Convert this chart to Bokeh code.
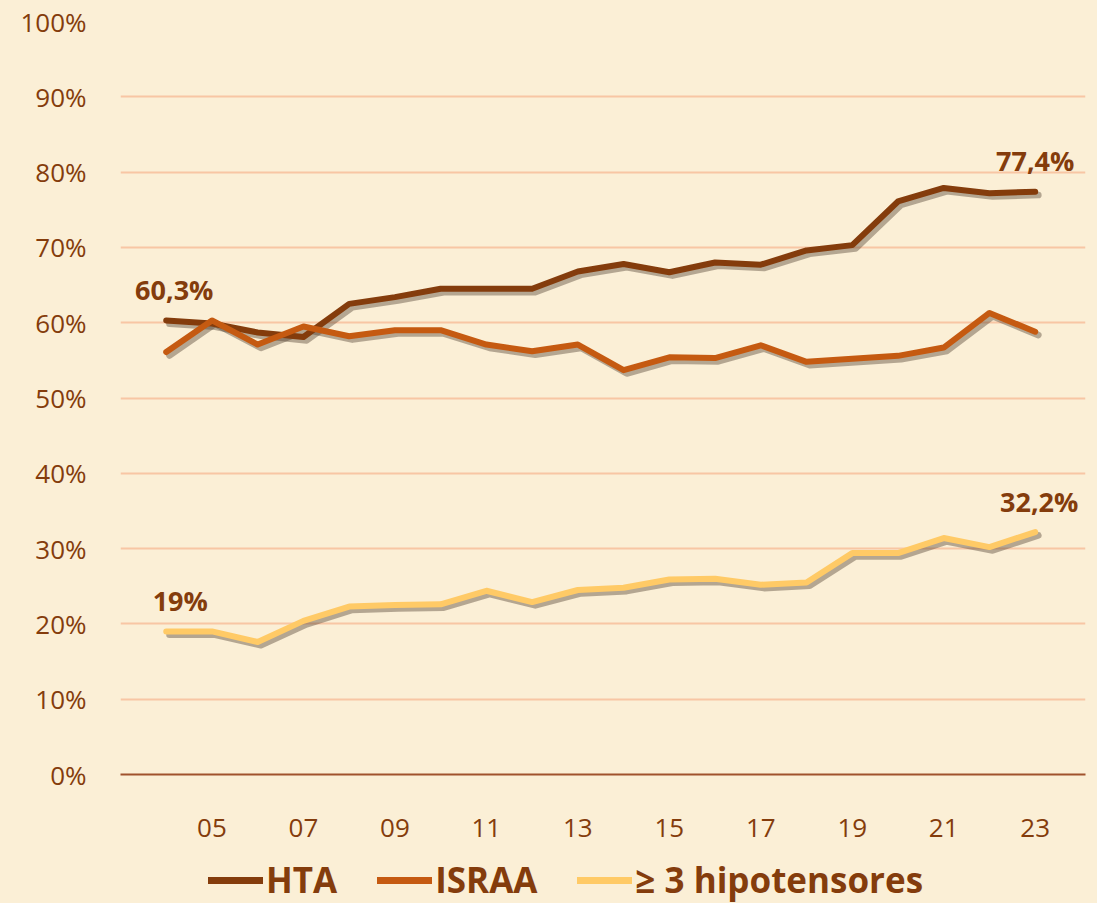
from bokeh.plotting import figure
from bokeh.layouts import column
from bokeh.models import FixedTicker, Legend, LegendItem, ColumnDataSource, Range1d
from bokeh.core.properties import value
from bokeh.embed import file_html
from bokeh.resources import INLINE

years = [4, 5, 6, 7, 8, 9, 10, 11, 12, 13, 14, 15, 16, 17, 18, 19, 20, 21, 22, 23]
tick_years = [5, 7, 9, 11, 13, 15, 17, 19, 21, 23]
tick_labels = ["05", "07", "09", "11", "13", "15", "17", "19", "21", "23"]
y_ticks = [0, 10, 20, 30, 40, 50, 60, 70, 80, 90, 100]

hta = [60.3, 59.9, 58.7, 58.1, 62.5, 63.4, 64.5, 64.5, 64.5, 66.8,
       67.8, 66.7, 68.0, 67.7, 69.6, 70.3, 76.1, 77.9, 77.2, 77.4]
israa = [56.1, 60.3, 57.1, 59.5, 58.2, 59.0, 59.0, 57.1, 56.2, 57.1,
         53.7, 55.4, 55.3, 57.0, 54.8, 55.2, 55.6, 56.7, 61.3, 58.8]
hipo = [19.0, 19.0, 17.6, 20.4, 22.3, 22.5, 22.6, 24.4, 22.9, 24.5,
        24.8, 25.9, 26.0, 25.2, 25.5, 29.4, 29.4, 31.4, 30.2, 32.2]

names = ["HTA", "ISRAA", "≥ 3 hipotensores"]
colors = ["#843C0C", "#C55A11", "#FFCA66"]
series = [hta, israa, hipo]

BG = "#FBEFD6"
TXT = "#843C0C"
FONT = "Open Sans"

p = figure(width=1097, height=850, output_backend="svg", toolbar_location=None,
           x_range=Range1d(3.0, 24.1), y_range=Range1d(0, 100),
           min_border_left=120, min_border_right=12, min_border_top=21, min_border_bottom=76)
p.background_fill_color = BG
p.border_fill_color = BG
p.outline_line_color = None

p.ygrid.grid_line_color = "#F8C6A4"
p.ygrid.grid_line_width = 2
p.ygrid.ticker = FixedTicker(ticks=y_ticks)
p.xgrid.grid_line_color = None

p.yaxis.ticker = FixedTicker(ticks=y_ticks)
p.yaxis.major_label_overrides = {v: f"{v}%" for v in y_ticks}
p.yaxis.axis_line_color = None
p.yaxis.major_tick_line_color = None
p.yaxis.minor_tick_line_color = None
p.yaxis.major_label_text_font = FONT
p.yaxis.major_label_text_font_size = "26px"
p.yaxis.major_label_text_color = TXT
p.yaxis.major_label_standoff = 28

p.xaxis.ticker = FixedTicker(ticks=tick_years)
p.xaxis.major_label_overrides = {t: l for t, l in zip(tick_years, tick_labels)}
p.xaxis.axis_line_color = "#A0522D"
p.xaxis.axis_line_width = 2
p.xaxis.major_tick_line_color = None
p.xaxis.minor_tick_line_color = None
p.xaxis.major_label_text_font = FONT
p.xaxis.major_label_text_font_size = "26px"
p.xaxis.major_label_text_color = TXT
p.xaxis.major_label_standoff = 38

for name, col, vals in zip(names, colors, series):
    sx = [x + 0.07 for x in years]
    sy = [v - 0.45 for v in vals]
    p.line(sx, sy, line_color="#4A3A2A", line_alpha=0.4, line_width=6.5,
           line_cap="round", line_join="round")
for name, col, vals in zip(names, colors, series):
    p.line(years, vals, line_color=col, line_width=6, line_cap="round", line_join="round")

def fmt(v):
    s = f"{v:.1f}".replace(".", ",")
    if s.endswith(",0"):
        s = s[:-2]
    return s + "%"

lab_src = ColumnDataSource(dict(
    x=[years[0], years[-1], years[0], years[-1]],
    y=[hta[0], hta[-1], hipo[0], hipo[-1]],
    t=[fmt(hta[0]), fmt(hta[-1]), fmt(hipo[0]), fmt(hipo[-1])],
    dx=[8, 0, 14, 4],
))
p.text(x="x", y="y", text="t", source=lab_src, text_font=value(FONT),
       text_font_style="bold", text_font_size="27px", text_color=TXT,
       text_align="center", text_baseline="middle", x_offset="dx", y_offset=-31)

# legend strip
q = figure(width=1097, height=53, output_backend="svg", toolbar_location=None,
           x_range=Range1d(0, 1), y_range=Range1d(0, 1),
           x_axis_location=None, y_axis_location=None,
           min_border_left=120, min_border_right=12, min_border_top=0, min_border_bottom=0)
q.background_fill_color = BG
q.border_fill_color = BG
q.outline_line_color = None
q.grid.grid_line_color = None
items = []
for name, col in zip(names, colors):
    r = q.line([-10, -9], [-10, -9], line_color=col, line_width=7, line_cap="round")
    items.append(LegendItem(label=name, renderers=[r]))
legend = Legend(items=items, orientation="horizontal", location=(88, 0),
                background_fill_alpha=0, border_line_color=None,
                label_text_font=FONT, label_text_font_style="bold",
                label_text_font_size="35px", label_text_color=TXT,
                glyph_width=55, glyph_height=20, spacing=40, label_standoff=3,
                padding=0, margin=0)
q.add_layout(legend, "center")

layout = column(p, q, spacing=0, styles={"background-color": BG})
open("out.html", "w").write(file_html(layout, INLINE))
